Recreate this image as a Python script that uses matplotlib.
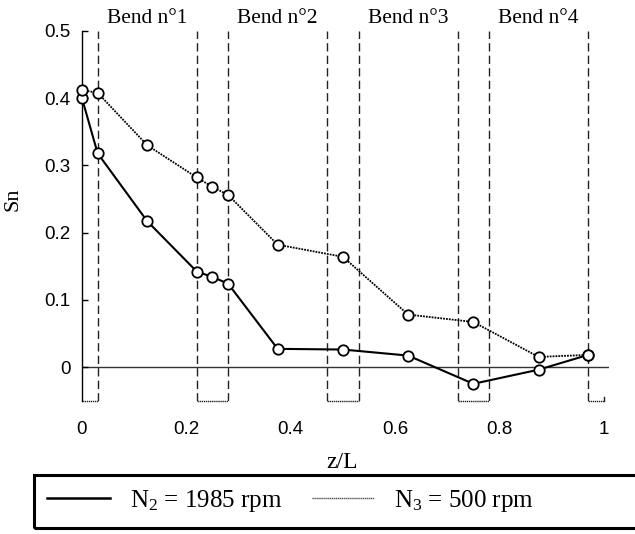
import numpy as np
import matplotlib.pyplot as plt
from matplotlib.patches import Rectangle
from matplotlib.lines import Line2D

plt.rcParams['mathtext.default'] = 'regular'

# measured profiles
zL = [0, 0.03, 0.125, 0.22, 0.25, 0.28, 0.375, 0.5, 0.625, 0.75, 0.875, 0.97]
sn_n2 = [0.400, 0.318, 0.217, 0.142, 0.134, 0.124, 0.027, 0.026, 0.017, -0.025, -0.004, 0.018]
sn_n3 = [0.412, 0.408, 0.330, 0.282, 0.268, 0.256, 0.182, 0.164, 0.078, 0.067, 0.015, 0.018]

# straight sections between the bends
straight = [(0, 0.03), (0.22, 0.28), (0.47, 0.53), (0.72, 0.78), (0.97, 1.0)]
bend_names = ['Bend n°1', 'Bend n°2', 'Bend n°3', 'Bend n°4']

xticks = [0, 0.2, 0.4, 0.6, 0.8, 1]
xticklabels = ['0', '0.2', '0.4', '0.6', '0.8', '1']
yticks = [0, 0.1, 0.2, 0.3, 0.4, 0.5]
yticklabels = ['0', '0.1', '0.2', '0.3', '0.4', '0.5']

serif = 'Liberation Serif'
sans = 'Liberation Sans'

fig = plt.figure(figsize=(6.35, 5.34), dpi=100)
ax = fig.add_axes([0.1291, 0.2498, 0.830, 0.6922])
ax.set_xlim(0, 1.01)
ax.set_ylim(-0.05, 0.5)

for s in ['top', 'right', 'bottom']:
    ax.spines[s].set_visible(False)
ax.spines['left'].set_linewidth(1.0)

ax.axhline(0, color='#333333', lw=1.0, zorder=1)

ymin, ymax = -0.05, 0.5
for a, b in straight:
    for xv in (a, b):
        if xv in (0, 1.0):
            continue
        ax.plot([xv, xv], [ymin, ymax], color='#222222', lw=1.0,
                linestyle=(0, (6, 3)), zorder=1)
    ax.plot([a, b], [ymin, ymin], color='#222222', lw=1.0,
            linestyle=(0, (1, 0.5)), zorder=1, clip_on=False)
ax.plot([1.0, 1.0], [ymin, ymin + 0.006], color='#222222', lw=1.0, clip_on=False)

for i, name in enumerate(bend_names):
    xc = (straight[i][1] + straight[i + 1][0]) / 2
    ax.text(xc, 0.519, name, ha='center', va='center', fontsize=15.5,
            family=serif, clip_on=False)

l2, = ax.plot(zL, sn_n2, color='black', lw=1.5, marker='o', markersize=7.5,
              markerfacecolor='white', markeredgecolor='black', markeredgewidth=1.3,
              zorder=3, clip_on=False)
l3, = ax.plot(zL, sn_n3, color='black', lw=1.3, linestyle=(0, (1, 0.6)),
              marker='o', markersize=7.5, markerfacecolor='white',
              markeredgecolor='black', markeredgewidth=1.3, zorder=3, clip_on=False)

ax.set_xticks(xticks)
ax.set_xticklabels(xticklabels, family=sans, fontsize=13.5)
ax.set_yticks(yticks)
ax.set_yticklabels(yticklabels, family=sans, fontsize=13.5)
ax.tick_params(axis='x', length=0, pad=15)
ax.tick_params(axis='y', direction='in', length=4, width=1, pad=8)

ax.set_xlabel('z/L', family=serif, fontsize=17)
ax.xaxis.set_label_coords(0.493, -0.14)
ax.set_ylabel('Sn', family=serif, fontsize=16)
ax.yaxis.set_label_coords(-0.112, 0.546)

fig.patches.append(Rectangle((0.0535, 0.011), 1.0, 0.099, transform=fig.transFigure,
                             facecolor='none', edgecolor='black', lw=2.2))

h2 = Line2D([], [], color='black', lw=1.8)
h3 = Line2D([], [], color='#555555', lw=1.0, linestyle=(0, (1, 0.4)))
fig.legend([h2, h3], ['N$_2$ = 1985 rpm', 'N$_3$ = 500 rpm'], ncol=2,
           loc='center left', bbox_to_anchor=(47 / 635, 1 - 501 / 534),
           frameon=False, borderpad=0, borderaxespad=0, handlelength=2.5,
           handletextpad=0.8, columnspacing=1.2,
           prop={'family': serif, 'size': 18})

fig.savefig('out.png', dpi=100)
